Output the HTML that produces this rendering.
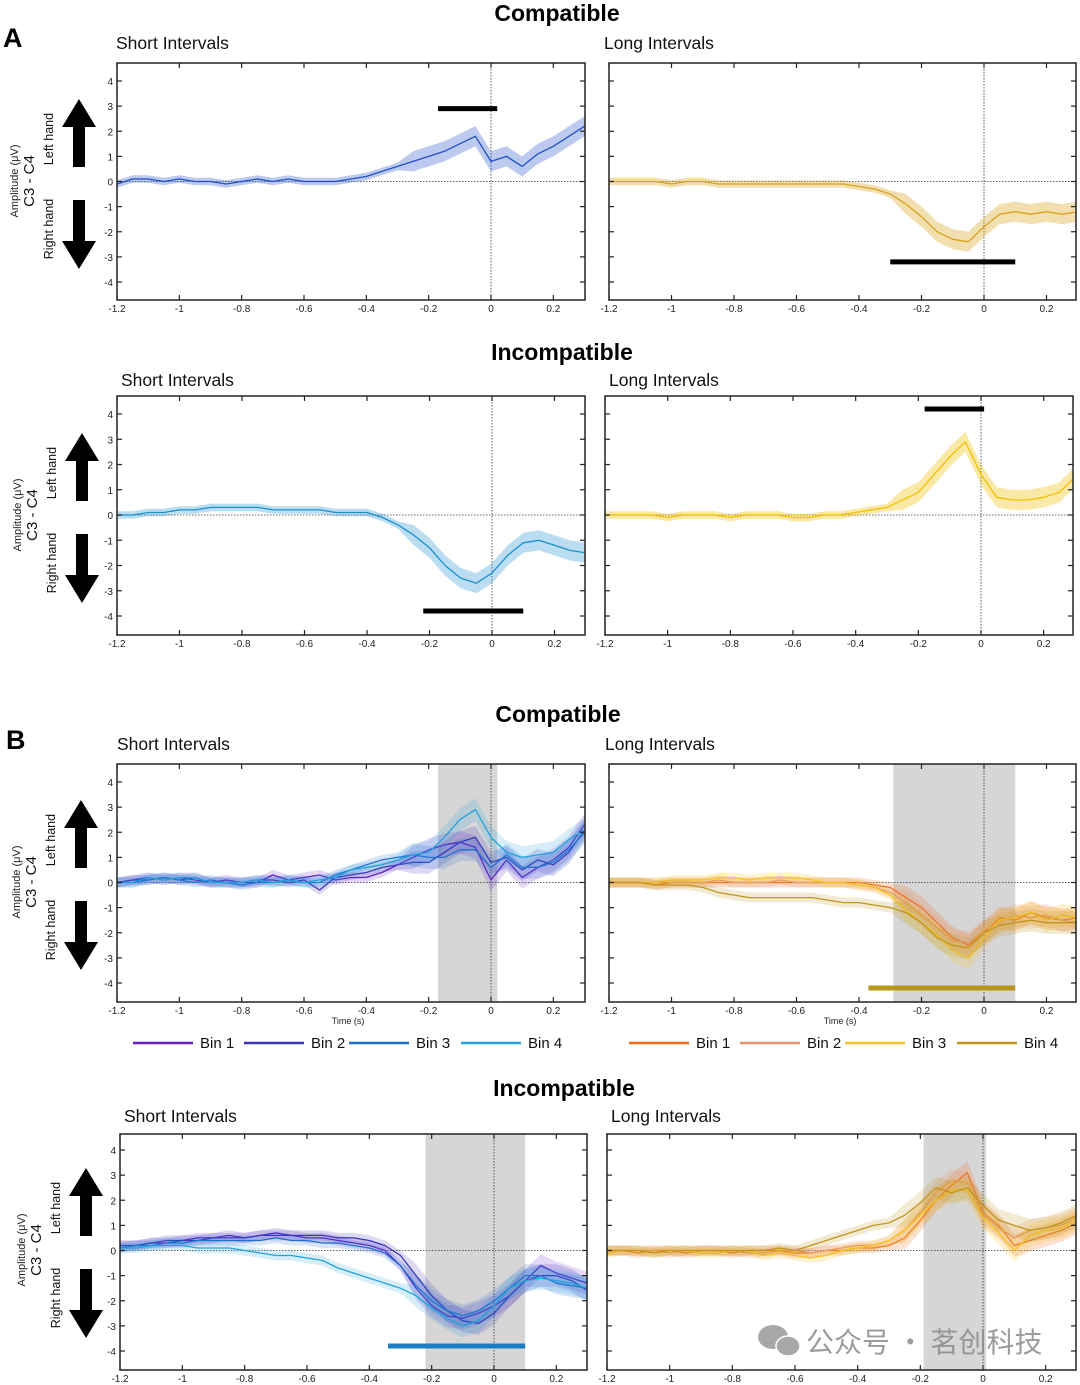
<!DOCTYPE html>
<html><head><meta charset="utf-8">
<style>
html,body{margin:0;padding:0;background:#fff;}
body{width:1080px;height:1385px;position:relative;overflow:hidden;font-family:"Liberation Sans","Noto Sans CJK SC",sans-serif;}
svg{position:absolute;left:0;top:0;}
</style></head>
<body>
<svg id="fig" width="1080" height="1385" viewBox="0 0 1080 1385" xmlns="http://www.w3.org/2000/svg" font-family="Liberation Sans, sans-serif">
</svg>
<script>
// ---- data ----
var times = [-1.2,-1.15,-1.1,-1.05,-1.0,-0.95,-0.9,-0.85,-0.8,-0.75,-0.7,-0.65,-0.6,-0.55,-0.5,-0.45,-0.4,-0.35,-0.3,-0.25,-0.2,-0.15,-0.1,-0.05,0,0.05,0.1,0.15,0.2,0.25,0.3];
var xTicks = [-1.2,-1,-0.8,-0.6,-0.4,-0.2,0,0.2];
var xTickLabels = ["-1.2","-1","-0.8","-0.6","-0.4","-0.2","0","0.2"];
var yTicks = [4,3,2,1,0,-1,-2,-3,-4];

var aCompShort = [-0.1,0.1,0.1,0,0.1,0,0,-0.1,0,0.1,0,0.1,0,0,0,0.1,0.2,0.4,0.6,0.8,1.0,1.2,1.5,1.8,0.8,1.0,0.6,1.1,1.4,1.8,2.2];
var aCompLong = [0,0,0,0,-0.1,0,0,-0.1,-0.1,-0.1,-0.1,-0.1,-0.1,-0.1,-0.1,-0.1,-0.2,-0.3,-0.5,-0.9,-1.4,-2.0,-2.3,-2.4,-1.8,-1.3,-1.2,-1.3,-1.2,-1.3,-1.2];
var aIncShort = [0,0,0.1,0.1,0.2,0.2,0.3,0.3,0.3,0.3,0.2,0.2,0.2,0.2,0.1,0.1,0.1,-0.1,-0.4,-0.8,-1.3,-2.0,-2.5,-2.7,-2.3,-1.6,-1.1,-1.0,-1.2,-1.4,-1.5];
var aIncLong = [0,0,0,0,-0.1,0,0,0,-0.1,0,0,0,-0.1,-0.1,0,0,0.1,0.2,0.3,0.6,0.9,1.6,2.3,2.9,1.6,0.7,0.6,0.6,0.7,0.9,1.5];

var bCompShort1 = [0,0.1,0.2,0.1,0.2,0.1,0,0.1,0,0,0.3,0.1,0.2,0.3,0.1,0.2,0.2,0.4,0.7,1.0,1.3,1.5,1.6,1.4,0.1,0.9,0.2,0.6,0.9,1.4,2.3];
var bCompShort2 = [0,0.1,0.1,0.2,0.1,0.2,0,0,0,0.1,0.1,0,0.1,-0.3,0.2,0.3,0.4,0.6,0.7,0.8,0.8,1.2,1.6,1.8,0.8,1.0,0.5,0.9,0.7,1.2,2.1];
var bCompShort3 = [0,0,0.1,0.2,0.1,0,0.1,0,-0.1,0,0,0.1,0,0,0.3,0.5,0.7,0.9,1.0,1.1,1.0,1.0,1.3,1.3,0.6,1.1,0.6,0.6,0.8,1.3,2.0];
var bCompShort4 = [0,0,0.2,0.1,0.2,0.2,0,0,0,0.1,0,0.1,0,0.1,0.2,0.5,0.6,0.7,0.9,1.1,1.2,1.8,2.5,2.9,1.8,1.2,1.0,1.1,1.2,1.7,2.1];

var bCompLong1 = [0,0,0,-0.1,0,0,0,0,0,0,0,0,0,0,0,0,0,-0.1,-0.2,-0.6,-1.0,-1.6,-2.2,-2.5,-2.0,-1.4,-1.5,-1.2,-1.4,-1.5,-1.4];
var bCompLong2 = [0,0,0,0,0,0,0,0.1,0,0,0,0.1,0,0,0,0,-0.1,-0.2,-0.4,-0.8,-1.3,-1.8,-2.3,-2.4,-1.9,-1.6,-1.3,-1.4,-1.3,-1.5,-1.6];
var bCompLong3 = [0,0,0,0,0.1,0.1,0.1,0.2,0.2,0.1,0.2,0.2,0.2,0.1,0,0,-0.1,-0.2,-0.5,-1.1,-1.6,-2.1,-2.7,-3.0,-2.2,-1.5,-1.4,-1.2,-1.5,-1.3,-1.4];
var bCompLong4 = [0,0,0,-0.1,-0.1,-0.1,-0.2,-0.4,-0.5,-0.6,-0.6,-0.6,-0.6,-0.6,-0.7,-0.8,-0.8,-0.9,-1.0,-1.2,-1.6,-2.2,-2.5,-2.6,-2.0,-1.7,-1.6,-1.5,-1.6,-1.6,-1.6];

var bIncShort1 = [0.2,0.2,0.3,0.3,0.4,0.5,0.5,0.5,0.5,0.6,0.6,0.6,0.5,0.5,0.4,0.3,0.2,0.0,-0.6,-1.5,-2.2,-2.6,-2.7,-2.5,-2.2,-1.8,-1.2,-0.6,-0.9,-1.1,-1.3];
var bIncShort2 = [0.2,0.2,0.3,0.4,0.4,0.4,0.5,0.6,0.5,0.6,0.7,0.6,0.6,0.6,0.5,0.5,0.4,0.2,-0.2,-1.0,-1.8,-2.4,-2.8,-2.9,-2.5,-1.8,-1.2,-1.0,-1.0,-1.2,-1.6];
var bIncShort3 = [0.1,0.2,0.2,0.3,0.3,0.4,0.4,0.4,0.4,0.4,0.5,0.4,0.4,0.3,0.3,0.2,0.1,-0.1,-0.6,-1.4,-2.0,-2.4,-2.6,-2.4,-2.0,-1.5,-1.0,-1.0,-1.3,-1.4,-1.5];
var bIncShort4 = [0.1,0.1,0.2,0.2,0.2,0.1,0.1,0.1,0.0,-0.1,-0.2,-0.2,-0.3,-0.4,-0.7,-0.9,-1.1,-1.3,-1.5,-1.8,-2.3,-2.7,-3.0,-2.8,-2.2,-1.5,-1.2,-1.1,-1.2,-1.3,-1.5];

var bIncLong1 = [0,0,-0.1,0,0,-0.1,0,0,-0.1,0,0,0,-0.1,-0.1,0,0,0.1,0.1,0.2,0.5,1.2,2.0,2.6,3.1,1.5,1.0,0.2,0.4,0.6,0.8,1.1];
var bIncLong2 = [0,0,0,0,-0.1,0,0,0,0,-0.1,-0.1,0,0,-0.1,0,0.1,0.2,0.2,0.4,0.8,1.5,2.3,2.8,2.7,1.4,0.9,0.5,0.8,0.9,1.0,1.3];
var bIncLong3 = [-0.1,0,0,-0.1,0,0,-0.1,-0.1,0,0,-0.2,-0.1,-0.2,-0.3,-0.2,0,0.1,0.2,0.4,0.8,1.4,2.0,2.4,2.4,1.3,0.7,0.0,0.6,0.8,0.9,1.2];
var bIncLong4 = [0,0,0,-0.1,0,0,0,0,0,0,0,0.1,0,0.2,0.4,0.6,0.8,1.0,1.1,1.4,1.9,2.5,2.3,2.5,1.8,1.2,1.0,0.8,0.9,1.1,1.4];

var sigACompShort = [-0.17,0.02,2.9];
var sigACompLong = [-0.3,0.1,-3.2];
var sigAIncShort = [-0.22,0.1,-3.8];
var sigAIncLong = [-0.18,0.01,4.2];
var sigBCompLong = [-0.37,0.1,-4.2];
var sigBIncShort = [-0.34,0.1,-3.8];
var shadeBCompShort = [-0.17,0.02];
var shadeBCompLong = [-0.29,0.1];
var shadeBIncShort = [-0.22,0.1];
var shadeBIncLong = [-0.19,0.01];

var binLabels = ["Bin 1","Bin 2","Bin 3","Bin 4"];
var coolColors = ["#6a1fc8","#3a34b8","#1f6fd0","#1fa3dc"];
var warmColors = ["#f26a1a","#e6946a","#f7c51a","#c0951e"];

// ---- drawing ----
var NS = "http://www.w3.org/2000/svg";
var svg = document.getElementById("fig");
function mk(tag, attrs, parent){
  var e = document.createElementNS(NS, tag);
  for (var k in attrs) e.setAttribute(k, attrs[k]);
  (parent||svg).appendChild(e);
  return e;
}
function txt(x,y,s,size,opts,parent){
  opts = opts||{};
  var t = mk("text",{x:x,y:y,"font-size":size,fill:opts.fill||"#000","text-anchor":opts.anchor||"start","font-weight":opts.weight||"normal"},parent);
  if (opts.rot) t.setAttribute("transform","rotate(-90 "+x+" "+y+")");
  t.textContent = s;
  return t;
}

function panel(name, box, showY){
  var g = mk("g",{});
  
  
  var sx = function(t){ return box.xa + (t+1.2)*(box.xb-box.xa)/1.2; };
  var sy = function(v){ var z=(box.y4+box.ym4)/2; return z - v*(box.ym4-box.y4)/8; };
  var clip = "clip-"+name;
  var cp = mk("clipPath",{id:clip},g);
  mk("rect",{x:box.L,y:box.T,width:box.R-box.L,height:box.B-box.T},cp);
  var inner = mk("g",{"clip-path":"url(#"+clip+")"},g);
  return {g:g,inner:inner,sx:sx,sy:sy,box:box,showY:showY};
}
function shade(p, win){
  var r = mk("rect",{x:p.sx(win[0]),y:p.box.T,width:p.sx(win[1])-p.sx(win[0]),height:p.box.B-p.box.T,fill:"#d6d6d6"},p.inner);
  
  
}
function refLines(p){
  var z = p.sy(0);
  mk("line",{x1:p.box.L,x2:p.box.R,y1:z,y2:z,stroke:"#333","stroke-width":0.8,"stroke-dasharray":"1.5,1.5"},p.inner);
  var x0 = p.sx(0);
  mk("line",{x1:x0,x2:x0,y1:p.box.T,y2:p.box.B,stroke:"#333","stroke-width":0.8,"stroke-dasharray":"1.5,1.5"},p.inner);
}
function series(p, vals, color, name, bandOpacity, bw){
  var up=[], dn=[], ln=[];
  for (var i=0;i<times.length;i++){
    var w = (bw||0.25) + (times[i]>-0.3 ? 0.25 : 0);
    var x = p.sx(times[i]);
    up.push(x.toFixed(1)+","+p.sy(vals[i]+w).toFixed(1));
    dn.unshift(x.toFixed(1)+","+p.sy(vals[i]-w).toFixed(1));
    ln.push(x.toFixed(1)+","+p.sy(vals[i]).toFixed(1));
  }
  var b = mk("polygon",{points:up.concat(dn).join(" "),fill:color,"fill-opacity":bandOpacity,stroke:"none"},p.inner);
  
  
  var l = mk("polyline",{points:ln.join(" "),fill:"none",stroke:color,"stroke-width":1.3,"stroke-linejoin":"round"},p.inner);
  
  
}
function sigBar(p, s, color, name){
  var r = mk("line",{x1:p.sx(s[0]),x2:p.sx(s[1]),y1:p.sy(s[2]),y2:p.sy(s[2]),stroke:color,"stroke-width":5},p.inner);
  
  
}
function axes(p){
  var b = p.box;
  var fr = mk("rect",{x:b.L,y:b.T,width:b.R-b.L,height:b.B-b.T,fill:"none",stroke:"#222","stroke-width":1.5},p.g);
  
  
  for (var i=0;i<xTicks.length;i++){
    var x = p.sx(xTicks[i]);
    mk("line",{x1:x,x2:x,y1:b.B,y2:b.B-5,stroke:"#222","stroke-width":1.2},p.g);
    mk("line",{x1:x,x2:x,y1:b.T,y2:b.T+5,stroke:"#222","stroke-width":1.2},p.g);
    var t = txt(x,b.B+12,xTickLabels[i],10,{anchor:"middle",fill:"#222"},p.g);
    
    
  }
  for (var j=0;j<yTicks.length;j++){
    var y = p.sy(yTicks[j]);
    mk("line",{x1:b.L,x2:b.L+5,y1:y,y2:y,stroke:"#222","stroke-width":1.2},p.g);
    mk("line",{x1:b.R,x2:b.R-5,y1:y,y2:y,stroke:"#222","stroke-width":1.2},p.g);
    if (p.showY){
      var yt = txt(b.L-4,y+4,String(yTicks[j]),10,{anchor:"end",fill:"#222"},p.g);
      
      
    }
  }
}
function yLabels(cx, zy){
  var g = mk("g",{});
  
  
  txt(cx-61,zy,"Amplitude (\u03BCV)",11,{rot:true,anchor:"middle",fill:"#222"},g);
  txt(cx-45,zy,"C3 - C4",15,{rot:true,anchor:"middle",fill:"#111"},g);
  txt(cx-26,zy-42,"Left hand",12.5,{rot:true,anchor:"middle",fill:"#111"},g);
  txt(cx-26,zy+48,"Right hand",12.5,{rot:true,anchor:"middle",fill:"#111"},g);
  var up = mk("polygon",{points:[cx-17,zy-54, cx,zy-82, cx+17,zy-54, cx+6,zy-54, cx+6,zy-14, cx-6,zy-14, cx-6,zy-54].join(" "),fill:"#000"},g);
  
  
  var dn = mk("polygon",{points:[cx-17,zy+60, cx,zy+88, cx+17,zy+60, cx+6,zy+60, cx+6,zy+19, cx-6,zy+19, cx-6,zy+60].join(" "),fill:"#000"},g);
  
  
}

var t;
t = txt(3,47,"A",27,{weight:"bold"});  
t = txt(6,749,"B",27,{weight:"bold"});  
t = txt(557,21,"Compatible",23,{weight:"bold",anchor:"middle"});  
t = txt(562,360,"Incompatible",23,{weight:"bold",anchor:"middle"});  
t = txt(558,722,"Compatible",23,{weight:"bold",anchor:"middle"});  
t = txt(564,1096,"Incompatible",23,{weight:"bold",anchor:"middle"});  
var subs = [[116,49,"Short Intervals"],[604,49,"Long Intervals"],[121,386,"Short Intervals"],[609,386,"Long Intervals"],[117,750,"Short Intervals"],[605,750,"Long Intervals"],[124,1122,"Short Intervals"],[611,1122,"Long Intervals"]];
for (var s=0;s<subs.length;s++){
  t = txt(subs[s][0],subs[s][1],subs[s][2],17.5,{fill:"#111"});
  
  
}

var p = panel("a-compatible-short",{L:117,R:585,T:63,B:300,xa:117,xb:491,y4:81,ym4:282},true);
refLines(p); series(p,aCompShort,"#1f4fc8","short-compatible",0.3,0.15); sigBar(p,sigACompShort,"#000","significance-bar"); axes(p);
yLabels(79,181);
p = panel("a-compatible-long",{L:609,R:1076,T:63,B:300,xa:609,xb:984,y4:81,ym4:282},false);
refLines(p); series(p,aCompLong,"#d9a21c","long-compatible",0.35,0.15); sigBar(p,sigACompLong,"#000","significance-bar"); axes(p);
p = panel("a-incompatible-short",{L:117,R:585,T:396,B:635,xa:117,xb:492,y4:414,ym4:616},true);
refLines(p); series(p,aIncShort,"#1a90d0","short-incompatible",0.3,0.15); sigBar(p,sigAIncShort,"#000","significance-bar"); axes(p);
yLabels(82,515);
p = panel("a-incompatible-long",{L:605,R:1073,T:396,B:635,xa:605,xb:981,y4:414,ym4:616},false);
refLines(p); series(p,aIncLong,"#f2c000","long-incompatible",0.35,0.15); sigBar(p,sigAIncLong,"#000","significance-bar"); axes(p);

p = panel("b-compatible-short",{L:117,R:585,T:764,B:1002,xa:117,xb:491,y4:782,ym4:983},true);
shade(p,shadeBCompShort); refLines(p);
[bCompShort1,bCompShort2,bCompShort3,bCompShort4].forEach(function(v,i){series(p,v,coolColors[i],"bin"+(i+1),0.18,0.2);});
axes(p); yLabels(81,882);
t = txt(348,1024,"Time (s)",9,{anchor:"middle",fill:"#222"});  
p = panel("b-compatible-long",{L:609,R:1076,T:764,B:1002,xa:609,xb:984,y4:782,ym4:983},false);
shade(p,shadeBCompLong); refLines(p);
[bCompLong1,bCompLong2,bCompLong3,bCompLong4].forEach(function(v,i){series(p,v,warmColors[i],"bin"+(i+1),0.2,0.2);});
sigBar(p,sigBCompLong,"#b8961e","significance-bar"); axes(p);
t = txt(840,1024,"Time (s)",9,{anchor:"middle",fill:"#222"});  

function legend(x0, colors, name){
  var g = mk("g",{});
  
  
  var pos = [0,111,216,328];
  for (var i=0;i<4;i++){
    var ge = mk("g",{},g);
    
    
    mk("line",{x1:x0+pos[i],x2:x0+pos[i]+60,y1:1043,y2:1043,stroke:colors[i],"stroke-width":2.5},ge);
    txt(x0+pos[i]+67,1048,binLabels[i],15,{fill:"#111"},ge);
  }
}
legend(133,coolColors,"legend-short");
legend(629,warmColors,"legend-long");

p = panel("b-incompatible-short",{L:120,R:587,T:1134,B:1370,xa:120,xb:494,y4:1150,ym4:1351},true);
shade(p,shadeBIncShort); refLines(p);
[bIncShort1,bIncShort2,bIncShort3,bIncShort4].forEach(function(v,i){series(p,v,coolColors[i],"bin"+(i+1),0.18,0.2);});
sigBar(p,sigBIncShort,"#1a7fc0","significance-bar"); axes(p); yLabels(86,1250);
p = panel("b-incompatible-long",{L:607,R:1076,T:1134,B:1370,xa:607,xb:983,y4:1150,ym4:1351},false);
shade(p,shadeBIncLong); refLines(p);
[bIncLong1,bIncLong2,bIncLong3,bIncLong4].forEach(function(v,i){series(p,v,warmColors[i],"bin"+(i+1),0.2,0.2);});
axes(p);

var wm = mk("g",{opacity:0.85});


mk("ellipse",{cx:773,cy:1337,rx:15,ry:12,fill:"#9a9a9a"},wm);
mk("ellipse",{cx:788,cy:1346,rx:12,ry:10,fill:"#9a9a9a",stroke:"#fff","stroke-width":1.5},wm);
txt(806,1352,"公众号 · 茗创科技",28,{fill:"#8a8a8a"},wm).setAttribute("font-family","Noto Sans CJK SC, sans-serif");
</script>
</body></html>
